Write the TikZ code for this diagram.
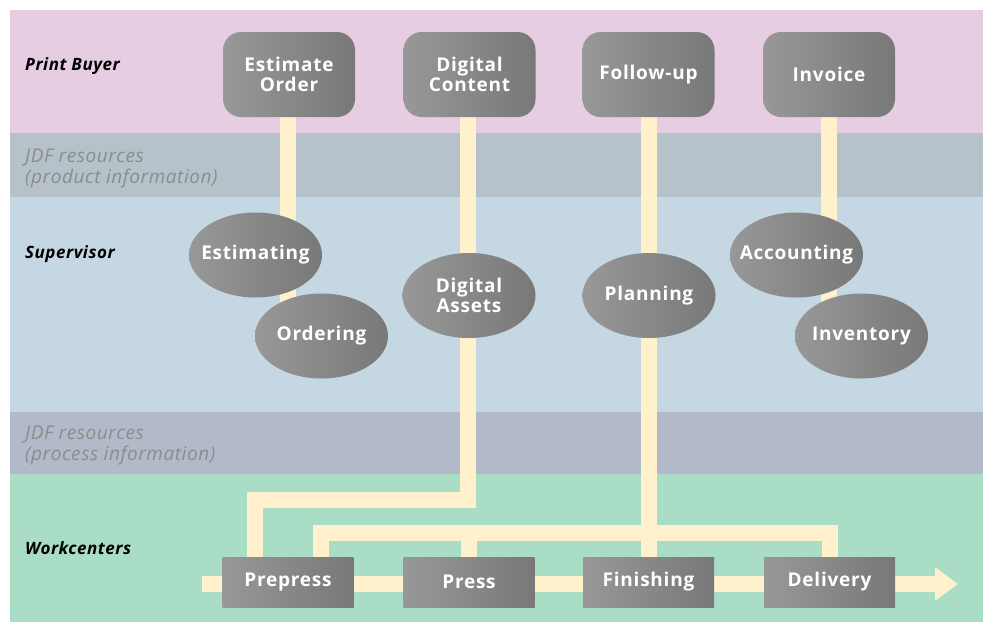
\documentclass[tikz,border=0pt]{standalone}
\usepackage{fontspec}
\setmainfont{Open Sans}
\usetikzlibrary{shapes.geometric,arrows.meta}
\definecolor{bgpink}{HTML}{E6CDE2}
\definecolor{bgjdfa}{HTML}{B6C2CA}
\definecolor{bgblue}{HTML}{C4D7E2}
\definecolor{bgjdfb}{HTML}{B2BACA}
\definecolor{bggreen}{HTML}{AADDC6}
\definecolor{flow}{HTML}{FFF1CC}
\definecolor{boxl}{HTML}{989898}
\definecolor{boxr}{HTML}{787878}
\definecolor{jdftext}{HTML}{8C8C8C}
\newcommand{\boxfont}{\fontsize{19}{20}\selectfont\bfseries\addfontfeature{LetterSpace=4}}
\tikzset{
  band/.style={fill=#1, draw=none},
  flowline/.style={draw=flow, line width=16pt},
  topbox/.style={rounded corners=18pt, minimum width=132pt, minimum height=85pt,
    left color=boxl, right color=boxr, draw=none, text=white,
    font=\boxfont, align=center, inner sep=0pt},
  procell/.style={ellipse, minimum width=133pt, minimum height=85pt,
    left color=boxl, right color=boxr, draw=none, text=white,
    font=\boxfont, align=center, inner xsep=-40pt, inner ysep=-15pt},
  wcbox/.style={rectangle, minimum width=131pt, minimum height=50pt,
    left color=boxl, right color=boxr, draw=none, text=white,
    font=\boxfont, align=center, inner sep=0pt},
  rolelabel/.style={anchor=west, font=\fontsize{17}{19}\selectfont\bfseries\itshape\addfontfeature{LetterSpace=3}, text=black, inner sep=0pt},
  jdflabel/.style={anchor=west, font=\fontsize{19}{21}\selectfont\itshape\addfontfeature{LetterSpace=3}, text=jdftext, align=left, inner sep=0pt}
}
\begin{document}
\begin{tikzpicture}[x=1pt,y=-1pt]
\useasboundingbox (0,0) rectangle (983,622);
\fill[white] (0,0) rectangle (983,622);
% bands
\fill[band=bgpink] (10,10) rectangle (983,133);
\fill[band=bgjdfa] (10,133) rectangle (983,197);
\fill[band=bgblue] (10,197) rectangle (983,412);
\fill[band=bgjdfb] (10,412) rectangle (983,474);
\fill[band=bggreen] (10,474) rectangle (983,622);

% left labels
\node[rolelabel] (lpb) at (25,66) {Print Buyer};
\node[jdflabel] (lj1) at (25,168) {JDF resources\\(product information)};
\node[rolelabel] (lsv) at (25,254) {Supervisor};
\node[jdflabel] (lj2) at (25,445) {JDF resources\\(process information)};
\node[rolelabel] (lwc) at (25,548) {Workcenters};

% coordinates for connectors
\coordinate (fstart) at (202,584);
\coordinate (fend) at (958,584);
\coordinate (ja) at (468,500);
\coordinate (jb) at (255,500);
\coordinate (jc) at (321,533);
\coordinate (jd) at (469,533);
\coordinate (je) at (649,533);
\coordinate (jf) at (830,533);

% node positions (drawn later on top)
\path (289,74.5) coordinate (pEO) (469.5,74.5) coordinate (pDC)
      (648.5,74.5) coordinate (pFU) (829,74.5) coordinate (pINV)
      (255.5,255) coordinate (pESTM) (321.5,336) coordinate (pORD)
      (469,295.5) coordinate (pDA) (649,295.5) coordinate (pPLN)
      (796.5,255) coordinate (pACC) (861.5,336) coordinate (pINVT)
      (288,582) coordinate (pPP) (469,582) coordinate (pPR)
      (648.5,582) coordinate (pFIN) (829.5,582) coordinate (pDEL);

% flow lines
\draw[flowline, -{Triangle[width=32pt,length=23pt]}] (fstart) -- (fend);
\draw[flowline] (288,100) -- (288,330);
\draw[flowline] (468,100) -- (ja) -- (jb) -- (255,575);
\draw[flowline] (649,100) -- (je);
\draw[flowline] (829,100) -- (829,330);
\draw[flowline] (jc |- 0,575) -- (jc) -- (jf) -- (jf |- 0,575);
\draw[flowline] (jd) -- (jd |- 0,575);
\draw[flowline] (je) -- (je |- 0,575);

% top boxes
\node[topbox] (EO) at (pEO) {Estimate\\Order};
\node[topbox] (DC) at (pDC) {Digital\\Content};
\node[topbox] (FU) at (pFU) {Follow-up};
\node[topbox] (INV) at (pINV) {Invoice};

% supervisor processes
\node[procell] (ESTM) at (pESTM) {Estimating};
\node[procell] (ORD) at (pORD) {Ordering};
\node[procell] (DA) at (pDA) {Digital\\Assets};
\node[procell] (PLN) at (pPLN) {Planning};
\node[procell] (ACC) at (pACC) {Accounting};
\node[procell] (INVT) at (pINVT) {Inventory};

% workcenters
\node[wcbox] (PP) at (pPP) {Prepress};
\node[wcbox] (PR) at (pPR) {Press};
\node[wcbox] (FIN) at (pFIN) {Finishing};
\node[wcbox] (DEL) at (pDEL) {Delivery};
\end{tikzpicture}
\end{document}
